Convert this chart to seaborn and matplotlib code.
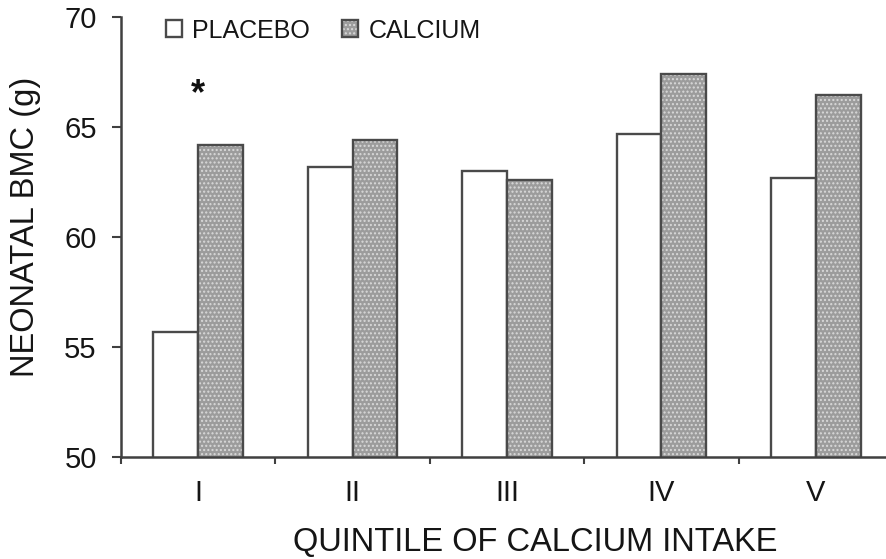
import matplotlib
matplotlib.use("Agg")
import matplotlib.pyplot as plt
import seaborn as sns
import pandas as pd
from matplotlib.patches import Patch

quintiles = ["I", "II", "III", "IV", "V"]
placebo = [55.7, 63.2, 63.0, 64.7, 62.7]
calcium = [64.2, 64.4, 62.6, 67.4, 66.45]
groups = ["PLACEBO", "CALCIUM"]
yticks = [50, 55, 60, 65, 70]

df = pd.DataFrame({
    "quintile": quintiles * 2,
    "value": placebo + calcium,
    "group": [groups[0]] * len(quintiles) + [groups[1]] * len(quintiles),
})

sns.set_style("white")
plt.rcParams["font.family"] = ["Liberation Sans", "DejaVu Sans"]
plt.rcParams["text.color"] = "#151515"
plt.rcParams["axes.labelcolor"] = "#151515"
plt.rcParams["xtick.labelcolor"] = "#151515"
plt.rcParams["ytick.labelcolor"] = "#151515"

fig = plt.figure(figsize=(8.87, 5.59), dpi=100)
ax = fig.add_axes([121 / 887, 1 - 457 / 559, (893 - 121) / 887, (457 - 17) / 559])

sns.barplot(data=df, x="quintile", y="value", hue="group", order=quintiles,
            hue_order=groups, width=0.58, ax=ax, legend=False,
            palette=["white", "#9c9c9c"])

edge = "#4a4a4a"
for i, cont in enumerate(ax.containers):
    for p in cont:
        p.set_edgecolor(edge)
        p.set_linewidth(1.7)
        if i == 1:
            p.set_hatch("....")
            p._hatch_color = (0.85, 0.85, 0.85, 1.0)

ax.set_ylim(50, 70)
ax.set_xlim(-0.5, 4.5)
ax.set_yticks(yticks)
ax.set_yticklabels([str(v) for v in yticks])
ax.tick_params(axis="y", which="major", direction="out", length=6.5, width=1.5,
               color="#404040", labelsize=21, pad=11, left=True)
ax.set_xticks([-0.5, 0.5, 1.5, 2.5, 3.5], minor=True)
ax.tick_params(axis="x", which="minor", direction="out", length=5, width=1.5,
               color="#404040", bottom=True)
ax.tick_params(axis="x", which="major", length=0, labelsize=21, pad=16)

for s in ["top", "right"]:
    ax.spines[s].set_visible(False)
for s in ["left", "bottom"]:
    ax.spines[s].set_color("#404040")
    ax.spines[s].set_linewidth(1.8)

ax.set_xlabel("QUINTILE OF CALCIUM INTAKE", fontsize=23.5)
ax.set_ylabel("NEONATAL BMC (g)", fontsize=23.5)
ax.xaxis.set_label_coords(0.536, -0.158)
ax.yaxis.set_label_coords(-0.104, 0.523)

ax.text(0, 66.45, "*", ha="center", va="center", fontsize=26,
        fontweight="bold", color="#111111")

h1 = Patch(facecolor="white", edgecolor=edge, linewidth=1.7)
h2 = Patch(facecolor="#9c9c9c", edgecolor=edge, linewidth=1.7, hatch="....")
h2._hatch_color = (0.85, 0.85, 0.85, 1.0)
leg = fig.legend([h1, h2], groups, loc="upper left",
                 bbox_to_anchor=(143 / 887, 1 + 4 / 559), ncol=2, frameon=False,
                 fontsize=18, handlelength=0.65, handleheight=0.65,
                 handletextpad=0.4, columnspacing=1.3)

fig.savefig("out.png", dpi=100)
